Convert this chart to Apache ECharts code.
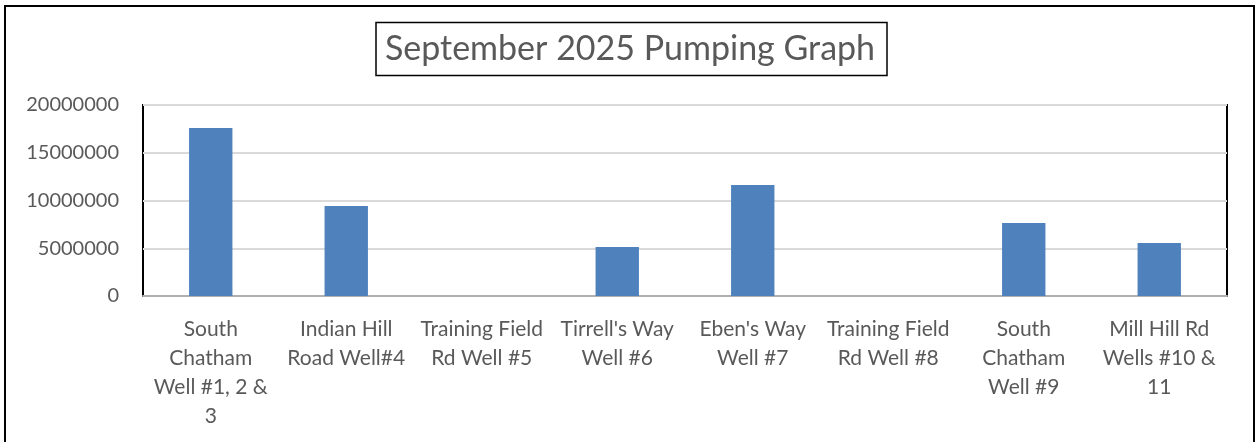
<!DOCTYPE html>
<html>
<head>
<meta charset="utf-8">
<script src="https://cdn.jsdelivr.net/npm/echarts@6/dist/echarts.min.js"></script>
<style>
html,body{margin:0;padding:0;background:#fff;}
#chart{width:1257px;height:442px;}
</style>
</head>
<body>
<div id="chart"></div>
<script>
const chartTitle = "September 2025 Pumping Graph";
const categories = [
  "South\nChatham\nWell #1, 2 &\n3",
  "Indian Hill\nRoad Well#4",
  "Training Field\nRd Well #5",
  "Tirrell's Way\nWell #6",
  "Eben's Way\nWell #7",
  "Training Field\nRd Well #8",
  "South\nChatham\nWell #9",
  "Mill Hill Rd\nWells #10 &\n11"
];
const pumpedGallons = [17600000, 9420000, 0, 5130000, 11620000, 0, 7640000, 5550000];
const yTicks = [0, 5000000, 10000000, 15000000, 20000000];

const FONT = 'Lato';
const TEXT = '#595959';

const chart = echarts.init(document.getElementById('chart'), null, {renderer: 'canvas'});
chart.setOption({
  animation: false,
  backgroundColor: '#fff',
  title: {
    text: chartTitle,
    left: 630,
    textAlign: 'center',
    top: 29,
    padding: 0,
    textStyle: {fontFamily: FONT, fontSize: 34, fontWeight: 'normal', color: TEXT, lineHeight: 40}
  },
  graphic: [
    {type: 'rect', shape: {x: 5, y: 6, width: 1249, height: 470}, style: {fill: 'none', stroke: '#000', lineWidth: 2}, silent: true},
    {type: 'rect', shape: {x: 376, y: 22.5, width: 511, height: 53}, style: {fill: 'none', stroke: '#000', lineWidth: 1.5}, silent: true}
  ],
  grid: {
    left: 143, top: 105, right: 30, bottom: 146,
    show: true, borderColor: '#000', borderWidth: 2, backgroundColor: 'transparent',
    containLabel: false
  },
  xAxis: {
    type: 'category',
    data: categories,
    axisTick: {show: false},
    axisLine: {show: true, lineStyle: {color: '#b0b0b0', width: 2}},
    axisLabel: {interval: 0, margin: 19, fontFamily: FONT, fontSize: 21, color: TEXT, lineHeight: 29}
  },
  yAxis: {
    type: 'value',
    min: yTicks[0],
    max: yTicks[yTicks.length - 1],
    interval: yTicks[1] - yTicks[0],
    axisLine: {show: false},
    axisTick: {show: false},
    splitLine: {show: true, lineStyle: {color: '#d9d9d9', width: 2}},
    axisLabel: {margin: 24, fontFamily: FONT, fontSize: 20, color: TEXT, formatter: v => String(v)}
  },
  series: [{
    type: 'bar',
    data: pumpedGallons,
    barWidth: '32%',
    itemStyle: {color: '#4f81bd'}
  }]
});
</script>
</body>
</html>
